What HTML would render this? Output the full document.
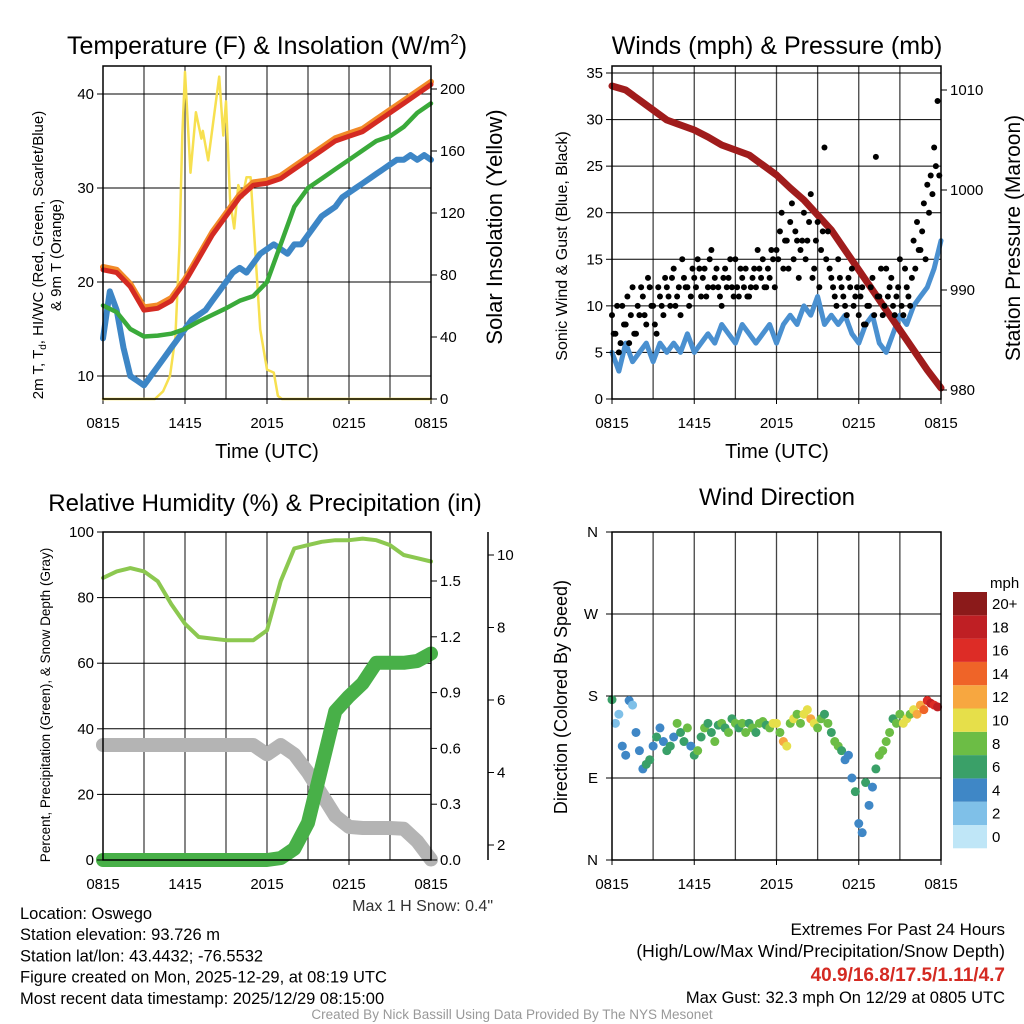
<!DOCTYPE html>
<html><head><meta charset="utf-8"><style>
body{margin:0;background:#fff;}
svg{display:block;font-family:"Liberation Sans",sans-serif;}
</style></head><body>
<svg id="s" width="1024" height="1024" viewBox="0 0 1024 1024" xmlns="http://www.w3.org/2000/svg"></svg>
<script>
// ---- data ----
const xTickLabels = ["0815","1415","2015","0215","0815"];
const tempRed = [21.3,21,19.5,17,17.2,18,20,22.5,25,27,29,30.3,30.5,31,32,33,34,35,35.5,36,37,38,39,40,41];
const tempGreen = [17.5,16.8,15,14.2,14.3,14.5,15,15.8,16.5,17.2,18,18.5,20,24,28,30,31,32,33,34,35,35.5,36.5,38,39];
const tempBlue = [14,19,17,13,10,9.5,9,10,11,12,13,14,15,16,16.5,17,18,19,20,21,21.5,21,22,23,23.5,24,23.5,23,24,24,25,26,27,27.5,28,29,29.5,30,30.5,31,31.5,32,32.5,33,33,33.5,33,33.5,33];
const solarHours = [0,3.8,4.4,4.9,5.3,5.6,5.8,6.0,6.4,6.8,7.2,7.3,7.7,8.5,8.8,9.0,9.3,9.6,9.9,10.2,10.5,10.8,11.5,12.0,12.5,12.8,13.1,13.5,24];
const solarVals = [0,0,5,15,40,100,170,211,146,185,168,173,154,208,170,192,128,110,138,130,143,143,45,19,17,2,0,0,0];
const pressure = [1010.4,1010,1009,1008,1007,1006.5,1006,1005.3,1004.5,1004,1003.5,1002.5,1001.5,1000.2,999,997.5,996,994,992,990,988,986,984,982,980.2];
const windSpeed = [5,3,6,4,5,6,4,6,5,6,5,7,5,6,7,6,8,7,6,8,7,6,7,8,6,8,9,8,10,9,11,8,9,8,9,7,6,8,9,6,5,7,9,8,10,11,12,14,17];
const gusts = [9,7,5,10,8,6,12,7, 9,11,8,12,10,7,11,9, 12,10,14,11,9,13,12,11, 13,15,11,14,12,16,13,12, 10,14,13,12,15,11,13,14, 11,13,12,14,15,12,13,15, 16,18,14,17,19,15,17,16, 20,17,22,14,19,16,27,18, 13,11,15,12,10,13,14,11, 9,12,8,10,13,26,11,9, 14,12,10,11,15,9,12,10, 17,19,16,21,23,24,27,32];
const gusts2 = [7,10,6,8,11,9,7,10, 12,9,13,10,8,12,10,13, 11,13,10,12,15,12,10,14, 12,14,13,11,15,12,14,11, 13,12,15,11,12,14,12,11, 12,14,16,13,12,14,16,12, 15,20,17,14,21,18,13,17, 15,19,13,17,12,18,15,14, 12,10,13,11,9,12,10,12, 11,8,10,12,9,11,14,10, 11,13,9,12,10,14,11,13, 14,16,18,15,20,22,25,24];
const rh = [86,88,89,88,85,78,72,68,67.5,67,67,67,70,85,95,96,97,97.5,97.5,98,97.5,96,93,92,91];
const precip = [0,0,0,0,0,0,0,0,0,0,0,0,0,0.01,0.06,0.2,0.5,0.8,0.88,0.95,1.06,1.06,1.06,1.07,1.11];
const snow = [4.76,4.76,4.76,4.76,4.76,4.76,4.76,4.76,4.76,4.76,4.76,4.76,4.5,4.76,4.5,4.0,3.4,2.8,2.5,2.47,2.47,2.47,2.45,2.1,1.6];
const windDir = [176,150,160,125,115,175,170,140, 120,100,105,110,125,135,145,130, 120,125,135,150,140,130,145,125, 115,120,135,145,150,140,130,148, 150,145,140,155,150,145,150,140, 150,145,140,150,152,148,145,150, 150,140,130,125,150,155,160,150, 160,165,155,150,145,155,160,150, 140,130,125,120,110,115,90,75, 40,30,85,60,80,100,115,120, 130,140,155,150,160,150,155,160, 165,160,170,165,175,172,170,168];
const dirSpeed = [6,2,2,4,4,4,2,4, 4,4,6,6,4,6,4,4, 6,6,4,8,6,6,8,4, 6,8,6,8,6,6,8,6, 8,6,8,6,8,6,8,8, 6,8,6,8,8,6,8,10, 10,8,12,10,8,10,8,8, 10,10,12,10,8,8,6,8, 6,8,8,6,4,4,4,6, 4,4,6,4,4,6,8,8, 8,8,6,8,8,10,10,8, 10,12,12,14,16,18,16,18];
const cbarLabels = ["0","2","4","6","8","10","12","14","16","18","20+"];
const cbarColors = ["#bfe6f7","#7fc0e8","#3f87c6","#3aa068","#6cbd45","#e6df4a","#f7a740","#ef6428","#dd2c26","#bf1f24","#8b1a1a"];

const S=document.getElementById('s');const NS="http://www.w3.org/2000/svg";
function el(t,a,name,parent){const e=document.createElementNS(NS,t);for(const k in a)e.setAttribute(k,a[k]);


(parent||S).appendChild(e);return e;}
function txt(x,y,s,size,name,opt){opt=opt||{};const e=el('text',{x:x,y:y,'font-size':size,fill:opt.fill||'#000','text-anchor':opt.anchor||'middle','font-weight':opt.bold?'bold':'normal'},name);
if(opt.rot)e.setAttribute('transform','rotate(-90 '+x+' '+y+')');e.innerHTML=s;return e;}
function lin(d0,d1,p0,p1){return v=>p0+(v-d0)*(p1-p0)/(d1-d0);}
function path(xs,vals,xf,yf,stroke,w,name){let d='';vals.forEach((v,i)=>{d+=(i?'L':'M')+xf(xs[i]).toFixed(1)+','+yf(v).toFixed(1);});
return el('path',{d:d,fill:'none',stroke:stroke,'stroke-width':w,'stroke-linejoin':'round','stroke-linecap':'round'},name);}
const hrs=[...Array(25).keys()];
const hh=n=>[...Array(n).keys()].map(i=>i*24/(n-1));
function frame(x0,y0,x1,y1,name,grid){
  const g=el('g',{},name);
  for(let h=3;h<24;h+=3){el('line',{x1:lin(0,24,x0,x1)(h),x2:lin(0,24,x0,x1)(h),y1:y0,y2:y1,stroke:'#444','stroke-width':1.3},'v-gridline',g);}
  (grid||[]).forEach(y=>el('line',{x1:x0,x2:x1,y1:y,y2:y,stroke:'#000','stroke-width':1},'h-gridline',g));
  xTickLabels.forEach((l,i)=>{const x=lin(0,4,x0,x1)(i);el('line',{x1:x,x2:x,y1:y1,y2:y1+5,stroke:'#000'},'x-tick',g);txt(x,y1+29,l,15,'x-tick-label');});
}
function border(x0,y0,x1,y1,name){el('rect',{x:x0,y:y0,width:x1-x0,height:y1-y0,fill:'none',stroke:'#000','stroke-width':1.5},name);}
function yticks(vals,yf,x,side,fmt,name){vals.forEach(v=>{const y=yf(v);el('line',{x1:x,x2:x+(side<0?-6:6),y1:y,y2:y,stroke:'#000'},name+'-tick');
txt(x+(side<0?-9:9),y+5,fmt?fmt(v):v,15,name+'-label',{anchor:side<0?'end':'start'});});}

// ---- Panel 1 ----
(function(){const x0=103,x1=431,y0=66,y1=399;const X=lin(0,24,x0,x1),Y=lin(10,40,376,94),Ys=lin(0,200,399,89);
frame(x0,y0,x1,y1,'temp-grid',[10,20,30,40].map(Y));
path(solarHours,solarVals,X,Ys,'#f7e050',2.5,'solar-line');
path(hh(49),tempBlue,X,Y,'#3d86c6',6,'wind-chill-line');
path(hrs,tempGreen,X,Y,'#3aaa3a',4.5,'dewpoint-line');
path(hrs,tempRed.map(v=>v+0.3),X,Y,'#f28a28',6,'temp-9m-line');
path(hrs,tempRed,X,Y,'#d42a22',5,'temp-2m-line');
border(x0,y0,x1,y1,'temp-plot-border');
yticks([10,20,30,40],Y,x0,-1,null,'temp-y');yticks([0,40,80,120,160,200],Ys,x1,1,null,'solar-y');
txt(267,54,'Temperature (F) &amp; Insolation (W/m<tspan font-size="15" dy="-10">2</tspan><tspan dy="10">)</tspan>',25,'temp-chart-title');
txt(267,458,'Time (UTC)',20,'temp-x-title');
txt(43,255,'2m T, T<tspan font-size="10" dy="3">d</tspan><tspan dy="-3">, HI/WC (Red, Green, Scarlet/Blue)</tspan>',15,'temp-y-title',{rot:1});
txt(61,255,'&amp; 9m T (Orange)',15,'temp-y-title-2',{rot:1});
txt(502,227,'Solar Insolation (Yellow)',22,'solar-y-title',{rot:1});})();

// ---- Panel 2 ----
(function(){const x0=612,x1=941,y0=66,y1=399;const X=lin(0,24,x0,x1),Y=lin(0,35,399,73),Yp=lin(980,1010,390,90);
frame(x0,y0,x1,y1,'wind-grid',[0,5,10,15,20,25,30,35].map(Y));
path(hh(49),windSpeed,X,Y,'#4a90d0',5,'sonic-wind-line');
path(hrs,pressure,X,Yp,'#a01c1c',7,'pressure-line');
gusts.forEach((g,i)=>{el('circle',{cx:X(i*24/96),cy:Y(g),r:3,fill:'#000'},'gust-point');});
gusts2.forEach((g,i)=>{el('circle',{cx:X(i*24/96+0.125),cy:Y(g),r:3,fill:'#000'},'gust-point');});
border(x0,y0,x1,y1,'wind-plot-border');
yticks([0,5,10,15,20,25,30,35],Y,x0,-1,null,'wind-y');yticks([980,990,1000,1010],Yp,x1,1,null,'pressure-y');
txt(777,54,'Winds (mph) &amp; Pressure (mb)',25,'wind-chart-title');
txt(777,458,'Time (UTC)',20,'wind-x-title');
txt(567,246,'Sonic Wind &amp; Gust (Blue, Black)',16,'wind-y-title',{rot:1});
txt(1020,238,'Station Pressure (Maroon)',21,'pressure-y-title',{rot:1});})();

// ---- Panel 3 ----
(function(){const x0=103,x1=431,y0=532,y1=860;const X=lin(0,24,x0,x1),Y=lin(0,100,860,532),Yr=lin(0,1.5,860,581),Ysn=lin(2,10,845,555);
frame(x0,y0,x1,y1,'rh-grid',[0,20,40,60,80,100].map(Y));
path(hrs,snow,X,Ysn,'#b4b4b4',14,'snow-depth-line');
path(hrs,rh,X,Y,'#8cc850',4,'rh-line');
path(hrs,precip,X,Yr,'#48b048',14,'precip-line');
border(x0,y0,x1,y1,'rh-plot-border');
yticks([0,20,40,60,80,100],Y,x0,-1,null,'rh-y');yticks([0,0.3,0.6,0.9,1.2,1.5],Yr,x1,1,v=>v.toFixed(1),'precip-y');
el('line',{x1:488,x2:488,y1:532,y2:860,stroke:'#000','stroke-width':1.5},'snow-axis');
yticks([2,4,6,8,10],Ysn,488,1,null,'snow-y');
txt(265,511,'Relative Humidity (%) &amp; Precipitation (in)',24,'rh-chart-title');
txt(50,705,'Percent, Precipitation (Green), &amp; Snow Depth (Gray)',13.5,'rh-y-title',{rot:1});
txt(493,911,'Max 1 H Snow: 0.4"',16,'max-snow-note',{anchor:'end',fill:'#333'});})();

// ---- Panel 4 ----
(function(){const x0=612,x1=941,y0=532,y1=860;const X=lin(0,24,x0,x1),Y=lin(0,360,860,532);
frame(x0,y0,x1,y1,'dir-grid',[0,90,180,270,360].map(Y));
const col=s=>cbarColors[Math.min(10,Math.round(s/2))];
windDir.forEach((d,i)=>{el('circle',{cx:X(i*24/96),cy:Y(d),r:4.5,fill:col(dirSpeed[i])},'direction-point');});
border(x0,y0,x1,y1,'dir-plot-border');
['N','E','S','W','N'].forEach((l,i)=>{const y=Y(i*90);el('line',{x1:x0,x2:x0-6,y1:y,y2:y,stroke:'#000'},'dir-y-tick');txt(x0-14,y+5,l,15,'dir-y-label',{anchor:'end'});});
txt(777,505,'Wind Direction',24,'dir-chart-title');
txt(567,697,'Direction (Colored By Speed)',18,'dir-y-title',{rot:1});
txt(990,588,'mph',15,'colorbar-title',{anchor:'start'});
cbarLabels.forEach((l,i)=>{const y=825-i*23.3;el('rect',{x:953,y:y,width:34,height:23.3,fill:cbarColors[i]},'colorbar-box');txt(992,y+17,l,15,'colorbar-label',{anchor:'start'});});})();

// ---- footer ----
['Location: Oswego','Station elevation: 93.726 m','Station lat/lon: 43.4432; -76.5532','Figure created on Mon, 2025-12-29, at 08:19 UTC','Most recent data timestamp: 2025/12/29 08:15:00'].forEach((s,i)=>txt(20,919+i*21.2,s,16.5,'station-info-line',{anchor:'start'}));
txt(1005,935,'Extremes For Past 24 Hours',17,'extremes-title',{anchor:'end'});
txt(1005,957,'(High/Low/Max Wind/Precipitation/Snow Depth)',17.5,'extremes-subtitle',{anchor:'end'});
txt(1005,981,'40.9/16.8/17.5/1.11/4.7',19,'extremes-values',{anchor:'end',fill:'#d42a22',bold:1});
txt(1005,1003,'Max Gust: 32.3 mph On 12/29 at 0805 UTC',16.5,'max-gust',{anchor:'end'});
txt(512,1019,'Created By Nick Bassill Using Data Provided By The NYS Mesonet',13.5,'credit',{fill:'#999'});
</script></body></html>
